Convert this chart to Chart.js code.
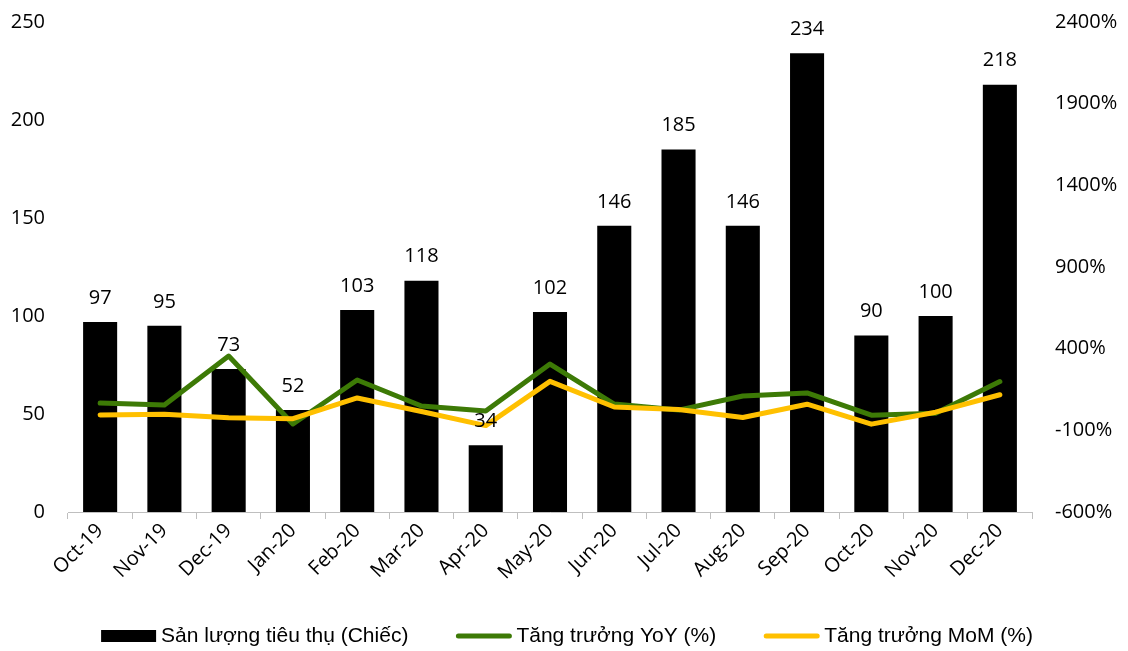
<!DOCTYPE html>
<html>
<head>
<meta charset="utf-8">
<script src="https://cdn.jsdelivr.net/npm/chart.js@4"></script>
<style>
html,body{margin:0;padding:0;background:#fff;}
#wrap{width:1128px;height:651px;}
</style>
</head>
<body>
<div id="wrap"><canvas id="c" width="1128" height="651"></canvas></div>
<script>
const categories = ['Oct-19','Nov-19','Dec-19','Jan-20','Feb-20','Mar-20','Apr-20','May-20','Jun-20','Jul-20','Aug-20','Sep-20','Oct-20','Nov-20','Dec-20'];
const salesVolume = [97, 95, 73, 52, 103, 118, 34, 102, 146, 185, 146, 234, 90, 100, 218];
const yoyGrowth = [67, 55, 355, -61, 208, 49, 18, 306, 61, 24, 110, 129, -7, 5, 199];
const momGrowth = [-6, -2, -23, -29, 98, 15, -71, 200, 43, 27, -21, 60, -62, 11, 118];
const leftTicks = [0, 50, 100, 150, 200, 250];
const rightTicks = [-600, -100, 400, 900, 1400, 1900, 2400];
const seriesNames = ['Sản lượng tiêu thụ (Chiếc)', 'Tăng trưởng YoY (%)', 'Tăng trưởng MoM (%)'];
const seriesColors = ['#000000', '#3D7A06', '#FFC000'];

const FONT = '"Open Sans", "Liberation Sans", sans-serif';
const LEGEND_FONT = '"Liberation Sans", Arial, sans-serif';
Chart.defaults.font.family = FONT;
Chart.defaults.color = '#000';

const barLabels = {
  id: 'barLabels',
  afterDatasetsDraw(chart) {
    const ctx = chart.ctx;
    const meta = chart.getDatasetMeta(2);
    ctx.save();
    ctx.font = '20px ' + FONT;
    ctx.fillStyle = '#000';
    ctx.textAlign = 'center';
    ctx.textBaseline = 'middle';
    meta.data.forEach((el, i) => {
      ctx.fillText(String(salesVolume[i]), el.x, el.y - 24);
    });
    ctx.restore();
  }
};

const customLegend = {
  id: 'customLegend',
  afterDraw(chart) {
    const ctx = chart.ctx;
    ctx.save();
    ctx.font = '21px ' + LEGEND_FONT;
    const sym = 55, gap = 5, itemGap = 48;
    const widths = seriesNames.map(t => ctx.measureText(t).width);
    const total = widths.reduce((a, b) => a + b, 0) + 3 * (sym + gap) + 2 * itemGap;
    let x = chart.width / 2 + 3 - total / 2;
    const y = 636;
    ctx.textBaseline = 'middle';
    ctx.textAlign = 'left';
    seriesNames.forEach((t, i) => {
      if (i === 0) {
        ctx.fillStyle = seriesColors[0];
        ctx.fillRect(x, y - 6, sym, 12);
      } else {
        ctx.strokeStyle = seriesColors[i];
        ctx.lineWidth = 5;
        ctx.lineCap = 'round';
        ctx.beginPath();
        ctx.moveTo(x + 2, y);
        ctx.lineTo(x + sym - 2, y);
        ctx.stroke();
      }
      ctx.fillStyle = '#000';
      ctx.fillText(t, x + sym + gap, y);
      x += sym + gap + widths[i] + itemGap;
    });
    ctx.restore();
  }
};

new Chart(document.getElementById('c'), {
  type: 'bar',
  data: {
    labels: categories,
    datasets: [
      {
        type: 'line', label: seriesNames[1], data: yoyGrowth, yAxisID: 'y1',
        borderColor: seriesColors[1], backgroundColor: seriesColors[1], borderWidth: 5,
        pointRadius: 0, tension: 0, order: 1, borderCapStyle: 'round', borderJoinStyle: 'round'
      },
      {
        type: 'line', label: seriesNames[2], data: momGrowth, yAxisID: 'y1',
        borderColor: seriesColors[2], backgroundColor: seriesColors[2], borderWidth: 5,
        pointRadius: 0, tension: 0, order: 0, borderCapStyle: 'round', borderJoinStyle: 'round'
      },
      {
        type: 'bar', label: seriesNames[0], data: salesVolume, yAxisID: 'y',
        backgroundColor: seriesColors[0], categoryPercentage: 1, barPercentage: 0.53, order: 2
      }
    ]
  },
  options: {
    responsive: false,
    animation: false,
    layout: { padding: { top: 22, left: 0, right: 0, bottom: 36 } },
    plugins: {
      tooltip: { enabled: false },
      legend: { display: false }
    },
    scales: {
      x: {
        offset: true,
        grid: { display: true, drawOnChartArea: false, drawTicks: true, tickLength: 7, color: '#BFBFBF', offset: true },
        border: { display: true, color: '#BFBFBF', width: 1 },
        ticks: { font: { size: 20 }, color: '#000', minRotation: 45, maxRotation: 45, padding: 0 },
        afterFit(s) { s.height = 103; s.paddingTop = 0; s.paddingLeft = 0; s.paddingRight = 0; }
      },
      y: {
        position: 'left', min: 0, max: 250,
        grid: { display: false, drawTicks: false },
        border: { display: false },
        afterBuildTicks(s) { s.ticks = leftTicks.map(v => ({ value: v })); },
        ticks: { font: { size: 20 }, color: '#000', padding: 23 },
        afterFit(s) { s.width = 68; s.paddingTop = 0; s.paddingBottom = 0; }
      },
      y1: {
        position: 'right', min: -600, max: 2400,
        grid: { display: false, drawTicks: false },
        border: { display: false },
        afterBuildTicks(s) { s.ticks = rightTicks.map(v => ({ value: v })); },
        ticks: { font: { size: 20 }, color: '#000', padding: 23, callback: v => v + '%' },
        afterFit(s) { s.width = 96; s.paddingTop = 0; s.paddingBottom = 0; }
      }
    }
  },
  plugins: [barLabels, customLegend]
});
</script>
</body>
</html>
